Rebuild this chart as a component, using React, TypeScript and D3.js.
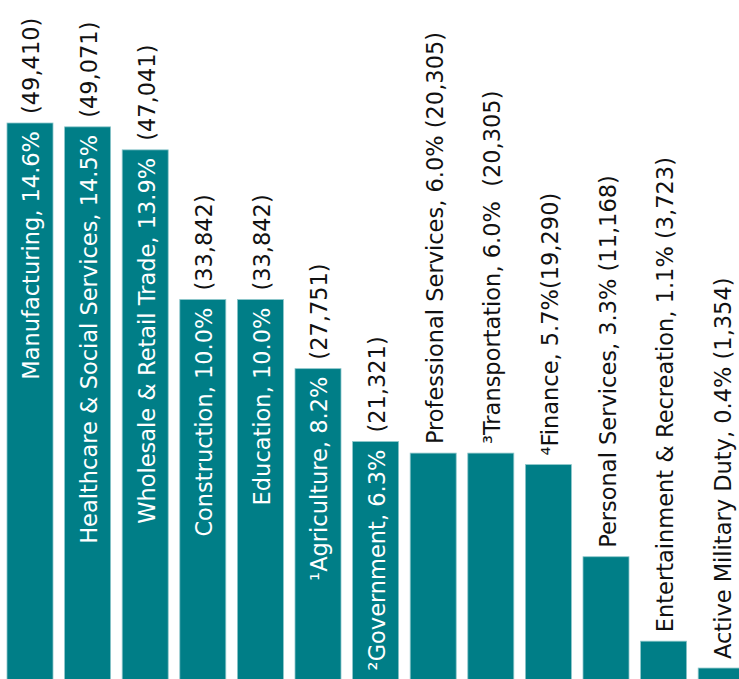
import React, { useEffect, useRef } from "react";
import * as d3 from "d3";

const categories = [
  "Manufacturing",
  "Healthcare & Social Services",
  "Wholesale & Retail Trade",
  "Construction",
  "Education",
  "¹Agriculture",
  "²Government",
  "Professional Services",
  "³Transportation",
  "⁴Finance",
  "Personal Services",
  "Entertainment & Recreation",
  "Active Military Duty",
];
const counts = [49410, 49071, 47041, 33842, 33842, 27751, 21321, 20305, 20305, 19290, 11168, 3723, 1354];
const percents = [14.6, 14.5, 13.9, 10.0, 10.0, 8.2, 6.3, 6.0, 6.0, 5.7, 3.3, 1.1, 0.4];
const separators = [" ", " ", " ", " ", " ", " ", " ", " ", "  ", "", " ", " ", " "];
// bars whose value exceeds this carry their category label inside the bar
const insideThreshold = 21000;

const W = 739;
const H = 679;
const FONT = "'DejaVu Sans', sans-serif";
const FS = 22.5;
const LS = 0;

export default function App() {
  const ref = useRef<SVGSVGElement>(null);

  useEffect(() => {
    const svg = d3.select(ref.current);
    svg.selectAll("*").remove();

    const x = d3
      .scaleBand<string>()
      .domain(categories)
      .range([7, 744.2])
      .paddingInner(0.2014)
      .paddingOuter(0)
      .align(0);
    const y = d3.scaleLinear().domain([0, 49410]).range([683.4, 123]);
    const fmt = d3.format(",");

    const data = categories.map((c, i) => ({
      name: c,
      count: counts[i],
      pct: percents[i],
      sep: separators[i],
    }));

    svg
      .append("g")
      .selectAll("rect")
      .data(data)
      .join("rect")
      .attr("x", (d) => x(d.name)!)
      .attr("y", (d) => y(d.count))
      .attr("width", x.bandwidth())
      .attr("height", (d) => y(0) - y(d.count))
      .attr("fill", "#007e87")
      .attr("stroke", "#8cc6ca")
      .attr("stroke-width", 0.8);

    const g = svg.append("g");
    const addText = (tx: number, ty: number, anchor: string, fill: string, txt: string) =>
      g
        .append("text")
        .attr("transform", `translate(${tx},${ty}) rotate(-90)`)
        .attr("text-anchor", anchor)
        .attr("font-family", FONT)
        .attr("font-size", FS)
        .attr("letter-spacing", LS)
        .attr("fill", fill)
        .style("white-space", "pre")
        .text(txt);

    data.forEach((d) => {
      const cx = x(d.name)! + x.bandwidth() / 2 + 9.5;
      const top = y(d.count);
      const label = `${d.name}, ${d.pct.toFixed(1)}%`;
      const countStr = `(${fmt(d.count)})`;
      if (d.count > insideThreshold) {
        addText(cx, top + 8, "end", "#ffffff", label);
        addText(cx, top - 9, "start", "#111111", countStr);
      } else {
        addText(cx, top - 9, "start", "#111111", label + d.sep + countStr);
      }
    });
  }, []);

  return (
    <svg
      ref={ref}
      width={W}
      height={H}
      style={{ position: "absolute", left: 0, top: 0, background: "#ffffff" }}
    />
  );
}
